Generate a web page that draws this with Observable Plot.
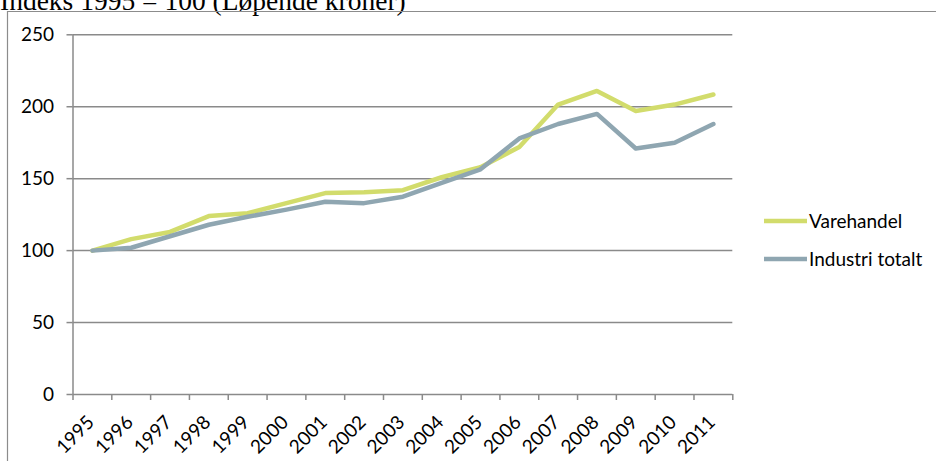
<!DOCTYPE html>
<html>
<head>
<meta charset="utf-8">
<script src="https://cdn.jsdelivr.net/npm/d3@7"></script>
<script src="https://cdn.jsdelivr.net/npm/@observablehq/plot@0.6"></script>
<style>
  html, body { margin: 0; padding: 0; background: #fff; overflow: hidden; }
  #wrap { position: relative; width: 936px; height: 461px; overflow: hidden; }
  #title {
    position: absolute; left: 0; top: -13.5px; white-space: nowrap;
    font-family: "Liberation Serif", "Times New Roman", serif;
    font-size: 27.5px; line-height: 27.5px; color: #000;
  }
  #chart { position: absolute; left: 0; top: 0; }
</style>
</head>
<body>
<div id="wrap">
  <div id="title">Indeks 1995 = 100 (Løpende kroner)</div>
  <div id="chart"></div>
</div>
<script>
// Years on the category axis
const years = [1995, 1996, 1997, 1998, 1999, 2000, 2001, 2002, 2003, 2004, 2005, 2006, 2007, 2008, 2009, 2010, 2011];
// Index values, 1995 = 100
const varehandel = [100, 108, 113, 124, 126, 133, 140, 140.5, 142, 151, 158, 172, 201.5, 211, 197, 201.5, 208.5];
const industriTotalt = [100, 102, 110, 118, 123.5, 128.5, 134, 133, 137.5, 147, 156.5, 178, 188, 195, 171, 175, 188];
const seriesNames = ["Varehandel", "Industri totalt"];
const seriesColors = ["#d2dc6c", "#8fa6b1"];
const yTicks = [0, 50, 100, 150, 200, 250];

const font = "Lato, 'Noto Sans', sans-serif";
const grey = "#8a8a8a";

const rows = (vals, name) => years.map((y, i) => ({year: y, value: vals[i], series: name}));
const dataV = rows(varehandel, seriesNames[0]);
const dataI = rows(industriTotalt, seriesNames[1]);

// category boundaries: the ticks sit between the years
const bounds = [years[0] - 0.5, ...years.map(y => y + 0.5)];

const chart = Plot.plot({
  width: 936,
  height: 461,
  marginLeft: 72.5,
  marginRight: 203.7,
  marginTop: 34.3,
  marginBottom: 67,
  style: {fontFamily: font, fontSize: "19px", color: "#000", background: "transparent", overflow: "visible"},
  x: {domain: [years[0] - 0.5, years[years.length - 1] + 0.5], axis: null},
  y: {domain: [0, 250], axis: null},
  marks: [
    Plot.gridY(yTicks, {stroke: grey, strokeOpacity: 1, strokeWidth: 1.5}),
    Plot.ruleX([bounds[0]], {stroke: grey, strokeWidth: 1.5}),
    Plot.axisY(yTicks, {tickSize: 6, tickPadding: 13, stroke: grey, strokeOpacity: 1, strokeWidth: 1.5, fontSize: 19, fill: "#000", label: null}),
    Plot.ruleX(bounds, {x: d => d, y1: 0, y2: 0, insetBottom: -6, stroke: grey, strokeWidth: 1.5}),
    Plot.text(years, {
      x: d => d, frameAnchor: "bottom", dx: 3, dy: 29,
      rotate: -45, textAnchor: "end", lineAnchor: "bottom",
      text: d => String(d), fontSize: 19, fill: "#000"
    }),
    Plot.lineY(dataV, {x: "year", y: "value", stroke: seriesColors[0], strokeWidth: 4.5, strokeLinejoin: "round", strokeLinecap: "round"}),
    Plot.lineY(dataI, {x: "year", y: "value", stroke: seriesColors[1], strokeWidth: 4.5, strokeLinejoin: "round", strokeLinecap: "round"})
  ]
});

document.getElementById("chart").appendChild(chart);

const svg = d3.select(chart);

// outer chart frame (left and top edges)
svg.append("path")
  .attr("d", "M7.5,461 L7.5,11.5 L936,11.5")
  .attr("fill", "none")
  .attr("stroke", "#8c8c8c")
  .attr("stroke-width", 1.2);

// legend
const legend = svg.append("g")
  .attr("font-family", font)
  .attr("font-size", 19)
  .attr("text-anchor", "start");
const legendY = [221, 259];
seriesNames.forEach((name, i) => {
  legend.append("line")
    .attr("x1", 764).attr("x2", 807)
    .attr("y1", legendY[i]).attr("y2", legendY[i])
    .attr("stroke", seriesColors[i]).attr("stroke-width", 4.5);
  legend.append("text")
    .attr("x", 809).attr("y", legendY[i]).attr("dy", "0.35em")
    .attr("text-anchor", "start")
    .attr("fill", "#000")
    .text(name);
});
</script>
</body>
</html>
